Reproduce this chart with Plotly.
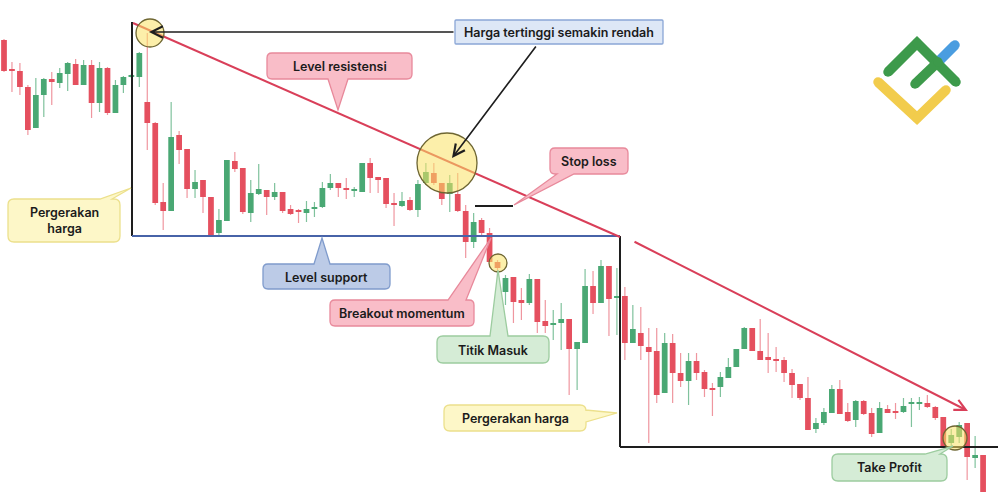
import plotly.graph_objects as go

# ---- candle data (price units, higher = up) ----
idx = list(range(124))
opens = [463,434,432,416,375,408,424,420,429,439,418,438,400,435,390,418,426,426,401,380,
         301,292,368,354,314,323,306,270,282,342,335,290,309,313,306,311,294,293,290,294,
         296,315,320,315,312,311,340,326,325,300,297,303,293,320,330,320,309,309,292,261,
         283,270,241,211,226,203,200,224,182,178,180,184,154,160,217,200,237,205,207,160,
         170,156,152,110,160,130,122,142,131,115,116,125,136,154,175,152,146,144,143,130,
         119,105,74,80,90,114,91,83,102,90,70,94,92,91,99,99,100,96,86,60,
         66,80,45,48]
highs = [464,441,440,418,425,425,431,435,441,444,443,443,441,436,423,427,429,451,470,381,
         320,401,372,354,333,323,306,294,343,351,335,323,339,313,320,311,298,294,302,301,
         321,329,320,325,316,340,345,326,325,310,311,306,323,340,340,320,328,330,298,290,
         285,275,243,228,226,215,229,224,203,193,200,184,161,234,232,243,237,235,216,198,
         196,175,175,170,169,150,150,150,133,120,131,145,154,176,175,184,170,156,146,134,
         119,126,85,95,118,123,100,103,103,95,101,98,100,105,105,106,108,97,86,74,
         81,80,67,48]
lows = [431,411,408,368,375,386,398,415,412,418,418,385,391,388,390,410,425,416,353,298,
        273,292,339,305,305,290,266,268,282,331,289,281,308,288,303,290,288,280,281,286,
        295,313,306,304,306,311,310,310,295,277,296,292,286,318,318,298,291,291,245,255,
        268,241,213,198,180,183,198,170,170,163,153,108,113,160,189,200,167,168,143,160,
        143,60,100,110,100,116,98,123,106,87,106,125,136,154,152,143,130,131,121,105,
        103,73,70,78,90,89,81,76,88,66,70,90,84,90,76,93,95,83,56,56,
        60,23,35,11]
closes = [432,432,416,373,408,424,421,430,440,418,438,400,435,390,418,426,427,450,380,300,
          292,366,353,314,321,306,268,283,343,334,291,310,314,306,311,292,289,291,294,296,
          315,320,315,313,314,340,325,323,299,298,302,293,319,331,320,304,320,292,261,281,
          270,241,235,225,201,200,224,181,177,180,184,154,161,217,200,237,204,207,160,174,
          157,151,108,160,130,122,142,130,114,113,126,136,154,175,152,143,143,142,130,118,
          105,73,80,91,114,89,82,102,89,69,95,90,90,97,101,101,96,85,56,68,
          78,46,48,11]

# ---- annotation texts ----
labels = {
    "top": "Harga tertinggi semakin rendah",
    "res": "Level resistensi",
    "move1": "Pergerakan<br>harga",
    "sup": "Level support",
    "sl": "Stop loss",
    "brk": "Breakout momentum",
    "entry": "Titik Masuk",
    "move2": "Pergerakan harga",
    "tp": "Take Profit",
}

GREEN = "#4aa874"
RED = "#e5505f"
GREEN_W = "rgba(74,168,116,0.7)"
RED_W = "rgba(229,80,95,0.6)"

fig = go.Figure()

# wicks
for up, col in [(True, GREEN_W), (False, RED_W)]:
    wx, wy = [], []
    for i, o, h, l, c in zip(idx, opens, highs, lows, closes):
        if (c >= o) == up:
            wx += [i, i, None]
            wy += [l, h, None]
    fig.add_trace(go.Scatter(x=wx, y=wy, mode="lines", line=dict(color=col, width=1.2),
                             hoverinfo="skip", showlegend=False))

# bodies
base = [min(o, c) for o, c in zip(opens, closes)]
hgt = [max(abs(c - o), 1.6) for o, c in zip(opens, closes)]
cols = [GREEN if c >= o else RED for o, c in zip(opens, closes)]
fig.add_trace(go.Bar(x=idx, y=hgt, base=base, width=0.72, marker=dict(color=cols, line=dict(width=0)),
                     showlegend=False, hoverinfo="skip"))

# ---- overlay geometry on pixel-like axes x2/y2 ----
shapes = []
def line(x0, y0, x1, y1, color, w=2):
    shapes.append(dict(type="line", xref="x2", yref="y2", x0=x0, y0=y0, x1=x1, y1=y1,
                       line=dict(color=color, width=w), layer="above"))

line(132, 22, 132, 236, "#1e1e1e", 2)
line(132, 236, 620, 236, "#4763a8", 2)
line(620, 236, 620, 447, "#1e1e1e", 2)
line(620, 447, 998, 447, "#1e1e1e", 2)
line(133, 23, 620, 237, "#d93f59", 2)
line(475, 206, 513, 206, "#1e1e1e", 2)

def circle(cx, cy, r):
    shapes.append(dict(type="circle", xref="x2", yref="y2", x0=cx - r, x1=cx + r, y0=cy - r, y1=cy + r,
                       fillcolor="rgba(249,226,100,0.55)", line=dict(color="#6e6632", width=1.3),
                       layer="above"))

circle(150, 33, 14)
circle(447, 163, 30)
circle(498, 263, 9)
circle(955, 438, 12)

def callout(x0, y0, x1, y1, fill, border, r=5, tail=None):
    side, a, b, tx, ty = tail if tail else (None, 0, 0, 0, 0)
    p = f"M{x0+r},{y0} "
    if side == "top":
        p += f"L{a},{y0} L{tx},{ty} L{b},{y0} "
    p += f"L{x1-r},{y0} Q{x1},{y0} {x1},{y0+r} "
    if side == "right":
        p += f"L{x1},{a} L{tx},{ty} L{x1},{b} "
    p += f"L{x1},{y1-r} Q{x1},{y1} {x1-r},{y1} "
    if side == "bottom":
        p += f"L{b},{y1} L{tx},{ty} L{a},{y1} "
    p += f"L{x0+r},{y1} Q{x0},{y1} {x0},{y1-r} "
    if side == "left":
        p += f"L{x0},{b} L{tx},{ty} L{x0},{a} "
    p += f"L{x0},{y0+r} Q{x0},{y0} {x0+r},{y0} Z"
    shapes.append(dict(type="path", xref="x2", yref="y2", path=p, fillcolor=fill,
                       line=dict(color=border, width=1.3), layer="above"))

PINK, PINK_B = "#f9bdc8", "#e8899b"
YEL, YEL_B = "#fdf7c8", "#ece08c"
GRN, GRN_B = "#d5ecd6", "#9ccc9f"
BLU, BLU_B = "#bccbe7", "#7f9bcc"

callout(455, 20, 663, 44, "#dde7f6", "#8aa6d6", r=1)
callout(267, 53, 412, 79, PINK, PINK_B, tail=("bottom", 328, 348, 338, 110))
callout(8, 199, 120, 242, YEL, YEL_B, r=6, tail=("top", 100, 112, 131, 188))
callout(263, 264, 390, 289, BLU, BLU_B, tail=("top", 314, 330, 322, 238))
callout(550, 148, 628, 174, PINK, PINK_B, tail=("bottom", 557, 574, 514, 205))
callout(330, 300, 474, 326, PINK, PINK_B, tail=("top", 448, 466, 491, 238))
callout(437, 336, 549, 363, GRN, GRN_B, r=6, tail=("top", 490, 508, 498, 270))
callout(444, 405, 586, 431, YEL, YEL_B, r=6, tail=("right", 410, 422, 617, 413))
callout(832, 454, 947, 481, GRN, GRN_B, r=6, tail=("top", 925, 940, 953, 446))

# logo strokes
def stroke(xs, ys, color):
    fig.add_trace(go.Scatter(x=xs, y=ys, xaxis="x2", yaxis="y2", mode="lines+markers",
                             line=dict(color=color, width=10),
                             marker=dict(color=color, size=9.5, line=dict(width=0)),
                             hoverinfo="skip", showlegend=False))

stroke([878, 917, 946], [82, 118, 90], "#f2cc4c")
stroke([938, 955], [62, 45], "#4a9de0")
stroke([888, 917, 956], [72, 43, 82], "#3d9a4b")
stroke([915, 938], [84, 62], "#3d9a4b")

FONT = dict(family="Inter, Noto Sans, sans-serif", size=12.5, color="#1b1b1b", weight=600)
ann = []
def text(x, y, t):
    ann.append(dict(x=x, y=y, xref="x2", yref="y2", text=t, showarrow=False, font=FONT,
                    xanchor="center", yanchor="middle"))

def arrow(x, y, ax, ay, color, w, size=1.0):
    ann.append(dict(x=x, y=y, xref="x2", yref="y2", ax=ax, ay=ay, axref="x2", ayref="y2",
                    text="", showarrow=True, arrowhead=5, arrowsize=size, arrowwidth=w,
                    arrowcolor=color, standoff=0, startstandoff=0))

text(559, 32, labels["top"])
text(340, 66, labels["res"])
text(64, 220, labels["move1"])
text(326, 277, labels["sup"])
text(589, 161, labels["sl"])
text(402, 313, labels["brk"])
text(493, 350, labels["entry"])
text(515, 418, labels["move2"])
text(889, 467, labels["tp"])

arrow(149, 32, 455, 32, "#1e1e1e", 1.6, 1.4)
arrow(452, 158, 537, 45, "#1e1e1e", 1.6, 1.4)
arrow(968, 411, 633, 241, "#d93f59", 2, 1.1)

fig.update_layout(
    width=1000, height=503, margin=dict(l=0, r=0, t=0, b=0),
    paper_bgcolor="white", plot_bgcolor="white", barmode="overlay",
    xaxis=dict(range=[-4 / 7.96, 996 / 7.96], visible=False),
    yaxis=dict(range=[0, 503], visible=False),
    xaxis2=dict(range=[0, 1000], overlaying="x", visible=False),
    yaxis2=dict(range=[503, 0], overlaying="y", visible=False),
    shapes=shapes, annotations=ann, showlegend=False,
)

fig.write_html("out.html", config={"displayModeBar": False},
               post_script="document.body.style.margin='0';document.body.style.overflow='hidden';")
